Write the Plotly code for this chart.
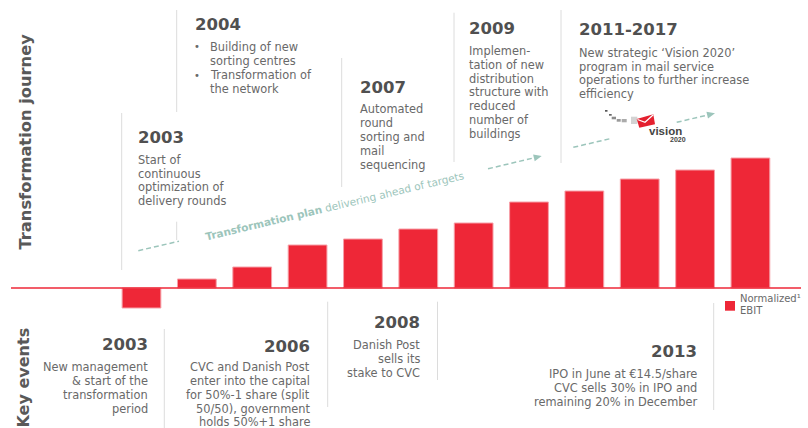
import math
import plotly.graph_objects as go

W, H = 808, 428
FONT = "DejaVu Sans"

# ---- data ----
years = [str(y) for y in range(2003, 2015)]
ebit = [-20, 9, 21, 43, 49, 59, 65, 86, 97, 109, 118, 130]

side_titles = ["Transformation journey", "Key events"]

top_years = ["2004", "2003", "2007", "2009", "2011-2017"]
top_texts = [
    ["Building of new", "sorting centres", "Transformation of", "the network"],
    ["Start of", "continuous", "optimization of", "delivery rounds"],
    ["Automated", "round", "sorting and", "mail", "sequencing"],
    ["Implemen-", "tation of new", "distribution", "structure with", "reduced",
     "number of", "buildings"],
    ["New strategic \u2018Vision 2020\u2019", "program in mail service",
     "operations to further increase", "efficiency"],
]
bottom_years = ["2003", "2006", "2008", "2013"]
bottom_texts = [
    ["New management", "&amp; start of the", "transformation", "period"],
    ["CVC and Danish Post", "enter into the capital", "for 50%-1 share (split",
     "50/50), government", "holds 50%+1 share"],
    ["Danish Post", "sells its", "stake to CVC"],
    ["IPO in June at \u20ac14.5/share", "CVC sells 30% in IPO and",
     "remaining 20% in December"],
]
legend_label = ["Normalized\u00b9", "EBIT"]
plan_bold = "Transformation plan"
plan_rest = " delivering ahead of targets"

RED = "#EE2737"
HEAD = "#505050"
BODY = "#696969"
DIV = "#dcdcdc"
TEAL = "#9CC5BB"

fig = go.Figure(go.Bar(
    x=years, y=ebit, width=0.7,
    marker=dict(color=RED, line=dict(color="#F6A0A8", width=1)),
    showlegend=False, hoverinfo="skip"))

def X(p):
    return p / W

def Y(p):
    return 1 - p / H

def text(x, y, s, size, color, anchor="left", bold=False, family=FONT, angle=0):
    fig.add_annotation(xref="paper", yref="paper", x=X(x), y=Y(y),
                       text=f"<b>{s}</b>" if bold else s, showarrow=False,
                       xanchor=anchor, yanchor="middle", textangle=angle,
                       borderpad=0,
                       font=dict(size=size, color=color, family=family))

def line(x0, y0, x1, y1, color, width=1, dash=None):
    fig.add_shape(type="line", xref="paper", yref="paper",
                  x0=X(x0), y0=Y(y0), x1=X(x1), y1=Y(y1),
                  line=dict(color=color, width=width, dash=dash))

def poly(pts, color, lcolor=None, lw=0):
    path = "M " + " L ".join(f"{X(a)},{Y(b)}" for a, b in pts) + " Z"
    fig.add_shape(type="path", xref="paper", yref="paper", path=path,
                  fillcolor=color, line=dict(color=lcolor or color, width=lw))

def rect(x0, y0, x1, y1, color):
    fig.add_shape(type="rect", xref="paper", yref="paper",
                  x0=X(x0), y0=Y(y0), x1=X(x1), y1=Y(y1),
                  fillcolor=color, line=dict(width=0))

# baseline
line(11, 288, 801, 288, RED, 1.3)

# dividers
for (x, y0, y1) in [(176.7, 10, 112), (176.7, 221.7, 240), (121.7, 113, 270),
                    (341.7, 58, 187), (454, 12.7, 162), (561, 10, 163),
                    (164.3, 329, 428), (327.7, 301.7, 407), (437.5, 301.7, 380),
                    (713.7, 303, 410)]:
    line(x, y0, x, y1, DIV, 1)

# side titles
text(25, 141.5, side_titles[0], 16.3, "#595959", "center", True, angle=-90)
text(23, 377.5, side_titles[1], 16.0, "#595959", "center", True, angle=-90)

# top blocks: (heading x, heading y, text x, first line y, spacing)
top_pos = [(194, 24, 209, 46.7, 14.2), (137, 137.5, 137, 160, 13.7),
           (359, 87, 359, 109, 13.9), (468, 28.5, 468, 50.7, 13.9),
           (578, 29.5, 578, 52.7, 13.8)]
for yr, lines, (hx, hy, tx, ty, sp) in zip(top_years, top_texts, top_pos):
    text(hx, hy, yr, 16.5, HEAD, "left", True)
    for i, s in enumerate(lines):
        text(tx, ty + i * sp, s, 11.4, BODY, "left")
# bullets for 2004
for i in (0, 2):
    text(196.5, 46.7 + i * 14.2, "\u2022", 10, BODY, "center")

# bottom blocks (right aligned)
bot_pos = [(148.5, 344, 366.7, 14.0), (311, 346.2, 367.2, 13.8),
           (421, 322.5, 345, 14.0), (697.5, 351, 374, 14.0)]
for yr, lines, (rx, hy, ty, sp) in zip(bottom_years, bottom_texts, bot_pos):
    text(rx, hy, yr, 16.5, HEAD, "right", True)
    for i, s in enumerate(lines):
        text(rx, ty + i * sp, s, 11.4, BODY, "right")

# legend
rect(725, 301, 735, 310.7, RED)
text(739, 298.7, legend_label[0], 10, BODY, "left")
text(739, 310.2, legend_label[1], 10, BODY, "left")

# transformation plan arrows
def arrowhead(tx, ty, fx, fy, color):
    dx, dy = tx - fx, ty - fy
    L = math.hypot(dx, dy)
    ux, uy = dx / L, dy / L
    nx, ny = -uy, ux
    bx, by = tx - 8 * ux, ty - 8 * uy
    poly([(tx, ty), (bx + 3.5 * nx, by + 3.5 * ny), (bx - 3.5 * nx, by - 3.5 * ny)], color)

line(138.3, 250.7, 179, 241.2, TEAL, 1.5, "5px,3px")
line(488, 168.8, 535, 157.6, TEAL, 1.5, "5px,3px")
arrowhead(541.7, 156, 488, 168.8, TEAL)
text(334, 206.5, f"<b>{plan_bold}</b>{plan_rest}", 10.5, TEAL, "center", angle=-13.4)

line(573.3, 147.3, 611.7, 138.3, TEAL, 1.5, "5px,3px")
line(676.7, 122.3, 709, 114.7, TEAL, 1.5, "5px,3px")
arrowhead(715, 113.3, 676.7, 122.3, TEAL)

# vision 2020 logo
rect(605, 110, 607.5, 111.7, "#555555")
rect(609, 114, 611.7, 115.7, "#666666")
rect(611.7, 116.7, 616, 119.3, "#8c8c8c")
rect(616.7, 119, 620.7, 121.7, "#9a9a9a")
rect(621.7, 119, 626.7, 122.3, "#ababab")
rect(631, 116.7, 637.3, 124, "#d3d3d3")
poly([(636.7, 119), (653.3, 114.3), (655, 124.3), (639.3, 127.7)], "#E4202F")
fig.add_shape(type="path", xref="paper", yref="paper",
              path=f"M {X(637.5)},{Y(119.5)} L {X(645)},{Y(122.3)} L {X(653.3)},{Y(114.8)}",
              line=dict(color="white", width=1.2))
text(647.5, 131, "vision", 11.5, "#454545", "left", True, family="Liberation Sans")
text(669.3, 139, "2020", 7, "#454545", "left", True, family="Liberation Sans")

fig.update_layout(
    width=W, height=H, margin=dict(l=0, r=0, t=0, b=0),
    paper_bgcolor="white", plot_bgcolor="white",
    xaxis=dict(type="category", range=[-2.556, 12.04], visible=False, fixedrange=True),
    yaxis=dict(range=[-140, 288], visible=False, fixedrange=True),
    bargap=0.3,
)
fig.write_html("out.html")
